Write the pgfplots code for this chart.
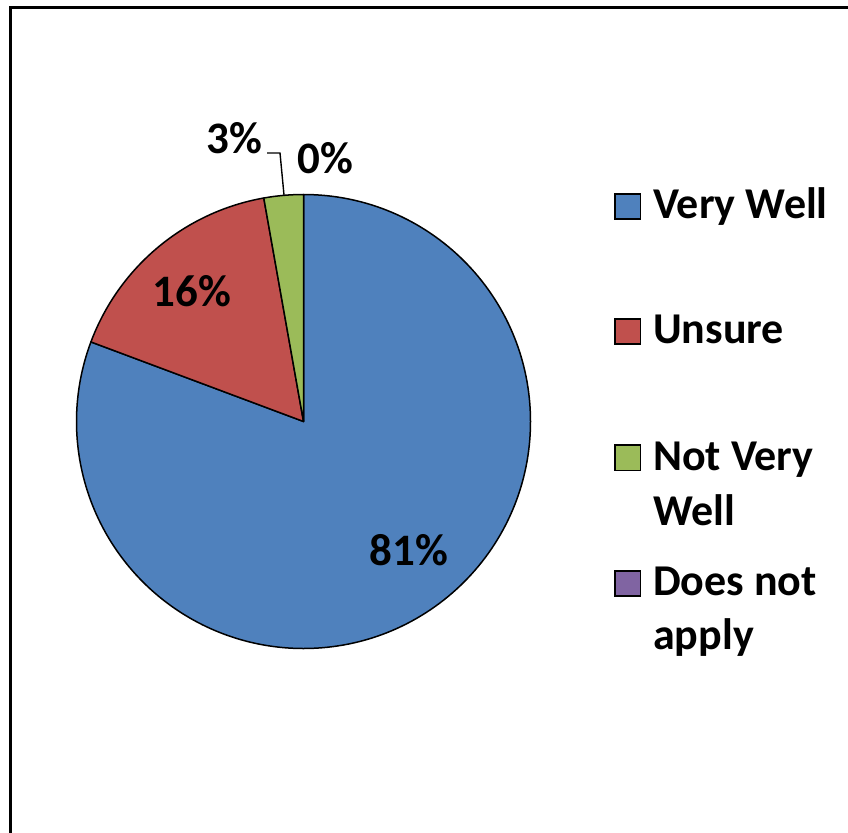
\documentclass[border=0pt]{standalone}
\usepackage{pgfplots}
\usepackage{pgfplotstable}
\pgfplotsset{compat=1.18}
\usepackage{fontspec}
\setmainfont{Carlito}
\definecolor{pieblue}{RGB}{79,129,189}
\definecolor{piered}{RGB}{192,80,77}
\definecolor{piegreen}{RGB}{155,187,89}
\definecolor{piepurple}{RGB}{128,100,162}
\pgfplotstableread{
label value
VeryWell 80.7
Unsure 16.5
NotVeryWell 2.8
DoesNotApply 0.0
}\piedata
\begin{document}
\begin{tikzpicture}
\begin{axis}[
  name=main,
  scale only axis, width=848bp, height=833bp,
  xmin=0, xmax=848, ymin=0, ymax=833, y dir=reverse,
  hide axis, clip=false,
]
% frame
\draw[line width=3.2bp, black] (axis cs:10.5,840) -- (axis cs:10.5,7.5) -- (axis cs:852,7.5);
% pie wedges from data
\pgfmathsetmacro\startang{90}
\global\let\startang\startang
\foreach \i/\c in {0/pieblue,1/piered,2/piegreen,3/piepurple}{
  \pgfplotstablegetelem{\i}{value}\of\piedata
  \pgfmathsetmacro\endang{\startang - 3.6*\pgfplotsretval}
  \edef\temp{\noexpand\filldraw[fill=\c, draw=black, line width=1.5bp, line join=round] (axis cs:303.5,421.5) -- ++(\startang:227bp) arc[start angle=\startang, end angle=\endang, radius=227bp] -- cycle;}
  \temp
  \xdef\startang{\endang}
}
% leader line
\draw[line width=1.4bp] (axis cs:267,153) -- (axis cs:280,153) -- (axis cs:284,195);
% data labels
\tikzset{lbl/.style={inner sep=0, anchor=base, font=\fontsize{45bp}{50bp}\selectfont\bfseries}}
\node[lbl] at (axis cs:409,565) {81\%};
\node[lbl] at (axis cs:192,306.5) {16\%};
\node[lbl] at (axis cs:234.5,153.3) {3\%};
\node[lbl] at (axis cs:325,174) {0\%};
% legend
\filldraw[fill=pieblue, draw=black, line width=1.2bp] (axis cs:615,194) rectangle (axis cs:640.5,219);
\filldraw[fill=piered, draw=black, line width=1.2bp] (axis cs:615,319) rectangle (axis cs:640.5,344);
\filldraw[fill=piegreen, draw=black, line width=1.2bp] (axis cs:615,445) rectangle (axis cs:640.5,470.5);
\filldraw[fill=piepurple, draw=black, line width=1.2bp] (axis cs:615,571) rectangle (axis cs:640.5,596);
\tikzset{leg/.style={inner sep=0, anchor=base west, font=\fontsize{44bp}{50bp}\selectfont\bfseries}}
\node[leg] at (axis cs:653,218) {Very Well};
\node[leg] at (axis cs:653,343) {Unsure};
\node[leg] at (axis cs:653,470) {Not Very};
\node[leg] at (axis cs:653,525) {Well};
\node[leg] at (axis cs:653,595) {Does not};
\node[leg] at (axis cs:653,649) {apply};
\end{axis}
\pgfresetboundingbox
\path (main.south west) rectangle (main.north east);
\end{tikzpicture}
\end{document}
